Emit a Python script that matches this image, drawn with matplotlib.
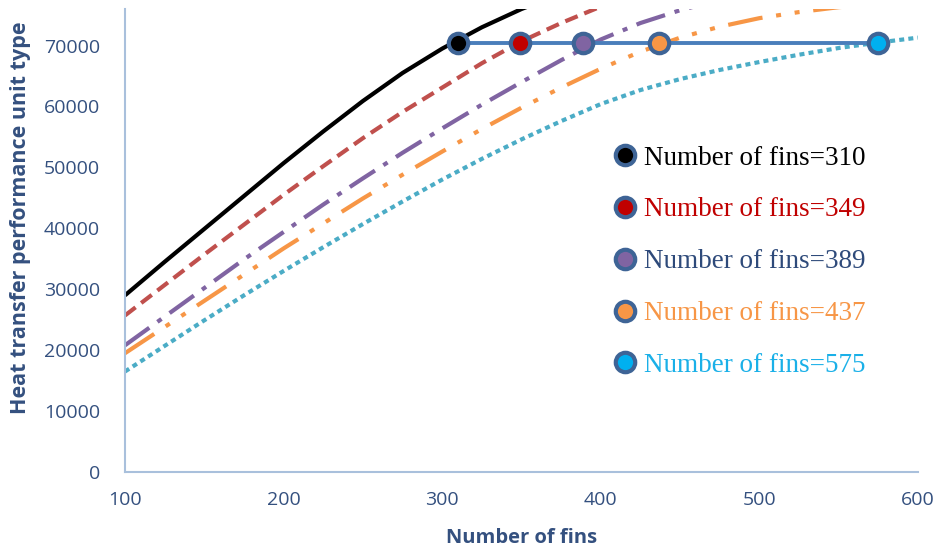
import numpy as np
import matplotlib.pyplot as plt
from matplotlib.lines import Line2D

# number of fins (x axis)
x = [100, 125, 150, 175, 200, 225, 250, 275, 300, 325, 350, 375, 400, 425, 450, 475, 500, 525, 550, 575, 600]

# curves, values (above 76000 they leave the plot)
y310 = [29000, 34500, 39900, 45300, 50700, 55900, 60900, 65500, 69500, 73000, 76000, 78500, 80500]
y349 = [25700, 30700, 35700, 40600, 45500, 50200, 54800, 59100, 63100, 67100, 70700, 73700, 76400, 78800, 80800]
y389 = [20800, 25500, 30200, 34900, 39400, 43900, 48200, 52400, 56400, 60300, 64000, 67600, 71000, 73700, 75800, 77500, 79000]
y437 = [19500, 23800, 28100, 32400, 36700, 40800, 44900, 48800, 52600, 56300, 59800, 63100, 66200, 69000, 71300, 73100, 74500,
        75500, 76300, 76900, 77300]
y575 = [16500, 20700, 24900, 29000, 33000, 36900, 40700, 44400, 48000, 51400, 54600, 57600, 60400, 62700, 64500, 66000, 67300,
        68500, 69600, 70500, 71300]

# optimum points
fins_opt = [310, 349, 389, 437, 575]
htpu_opt = [70500, 70500, 70500, 70500, 70500]
labels = ['Number of fins=310', 'Number of fins=349', 'Number of fins=389', 'Number of fins=437', 'Number of fins=575']

fills = ['#000000', '#C00000', '#8064A2', '#F79646', '#00B0F0']
txtcol = ['#000000', '#C00000', '#2E4A7A', '#F79646', '#1AB0E8']
edge = '#3E6496'
navy = '#34507F'

fig = plt.figure(figsize=(9.37, 5.5), dpi=100)
ax = fig.add_axes([0.1334, 0.1418, 0.8463, 0.8418])

lw = 3
ax.plot(x[:len(y310)], y310, color='black', lw=lw, solid_capstyle='butt')
ax.plot(x[:len(y349)], y349, color='#C0504D', lw=lw, dashes=(3.2, 1.7), dash_capstyle='butt')
ax.plot(x[:len(y389)], y389, color='#8064A2', lw=lw, dashes=(7.2, 2.4, 1.2, 2.4), dash_capstyle='butt')
ax.plot(x[:len(y437)], y437, color='#F79646', lw=lw, dashes=(8.4, 3.3, 1.2, 3.3, 1.2, 3.3), dash_capstyle='butt')
ax.plot(x[:len(y575)], y575, color='#4BACC6', lw=lw, dashes=(1.2, 1.0), dash_capstyle='butt')

ax.plot(fins_opt, htpu_opt, color='#4A7EBB', lw=2.8, zorder=5)
for i in range(len(fins_opt)):
    ax.plot(fins_opt[i], htpu_opt[i], 'o', ms=14, mfc=fills[i], mec=edge, mew=3, zorder=6)

ax.set_xlim(100, 600)
ax.set_ylim(0, 76000)
ax.set_xticks([100, 200, 300, 400, 500, 600])
ax.set_yticks(np.arange(0, 70001, 10000))

for s in ['top', 'right']:
    ax.spines[s].set_visible(False)
for s in ['left', 'bottom']:
    ax.spines[s].set_color('#A9C0DC')
    ax.spines[s].set_linewidth(1.5)

ax.tick_params(length=0, labelsize=14, labelcolor=navy)
ax.tick_params(axis='y', pad=18)
ax.tick_params(axis='x', pad=14)
for t in ax.get_xticklabels() + ax.get_yticklabels():
    t.set_fontfamily('Open Sans')

ax.set_xlabel('Number of fins', fontsize=14.5, fontweight='bold', color=navy, family='Open Sans')
ax.set_ylabel('Heat transfer performance unit type', fontsize=15.5, fontweight='bold', color=navy, family='Open Sans')
ax.xaxis.set_label_coords(0.5, -0.122)
ax.yaxis.set_label_coords(-0.118, 0.55)

handles = [Line2D([], [], ls='none', marker='o', ms=14, mfc=c, mec=edge, mew=3) for c in fills]
leg = ax.legend(handles, labels, loc='upper left', bbox_to_anchor=(0.6135, 0.705), frameon=False,
                borderpad=0, borderaxespad=0, handlelength=1.0, handletextpad=0.2, labelspacing=0.99,
                prop={'family': 'Liberation Serif', 'size': 19.5}, labelcolor=txtcol)

plt.savefig('out.png', dpi=100)
